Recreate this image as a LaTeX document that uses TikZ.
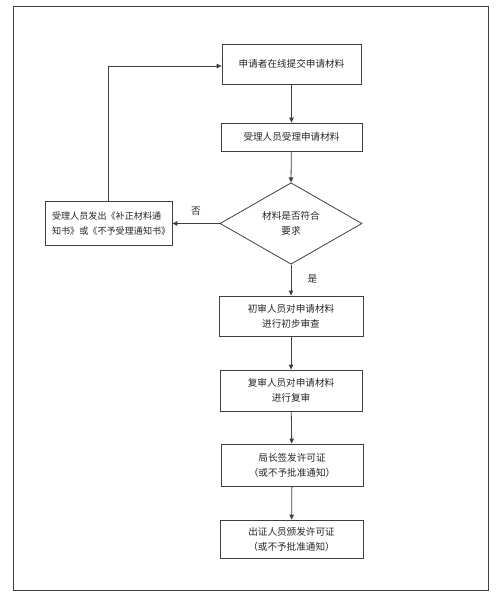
\documentclass[tikz,border=0pt]{standalone}
\usepackage{fontspec}
\setmainfont{Noto Sans CJK SC}
\usetikzlibrary{shapes.geometric,arrows.meta}
\begin{document}
\begin{tikzpicture}[x=1pt,y=-1pt,
  box/.style={draw=black!75,line width=0.8pt,inner sep=0pt,font=\fontsize{9.6}{15}\selectfont,align=center,text=black!85},
  conn/.style={draw=black!75,line width=0.8pt,-{Triangle[length=5pt,width=4.5pt]}},
  lbl/.style={font=\fontsize{9.6}{12}\selectfont,text=black!85}]
\useasboundingbox (0,0) rectangle (499,601);
\draw[black!75,line width=0.8pt] (13,6) rectangle (488,590);
\node[box,minimum width=139pt,minimum height=40pt] (b1) at (291.5,64) {申请者在线提交申请材料};
\node[box,minimum width=141pt,minimum height=28pt] (b2) at (291.5,137) {受理人员受理申请材料};
\node[box,diamond,minimum width=142pt,minimum height=69pt,inner sep=0pt] (d) at (291,223.5) {材料是否符合\\要求};
\node[box,minimum width=127pt,minimum height=44pt,inner xsep=7pt,text width=113pt,align=left,font=\fontsize{9.1}{15}\selectfont] (l) at (108.5,223.5) {受理人员发出《补正材料通\\知书》或《不予受理通知书》};
\node[box,minimum width=144pt,minimum height=40pt] (b3) at (291,316) {初审人员对申请材料\\进行初步审查};
\node[box,minimum width=142pt,minimum height=41pt] (b4) at (291,390.5) {复审人员对申请材料\\进行复审};
\node[box,minimum width=142pt,minimum height=42pt] (b5) at (292,465) {局长签发许可证\\（或不予批准通知）};
\node[box,minimum width=143pt,minimum height=38pt] (b6) at (291.5,539) {出证人员颁发许可证\\（或不予批准通知）};
\coordinate (c1) at (108,66);
\draw[conn] (b1) -- (b2);
\draw[conn] (b2) -- (d.north);
\draw[conn] (d.west) -- (l.east) node[lbl,pos=0.5,above=4pt] {否};
\draw[conn] (d.south) -- (b3.north) node[lbl,pos=0.45,right=13pt] {是};
\draw[conn] (b3) -- (b4);
\draw[conn] (b4) -- (b5);
\draw[conn] (b5) -- (b6);
\draw[conn] (l.north -| c1) -- (c1) -- (c1 -| b1.west);
\end{tikzpicture}
\end{document}
